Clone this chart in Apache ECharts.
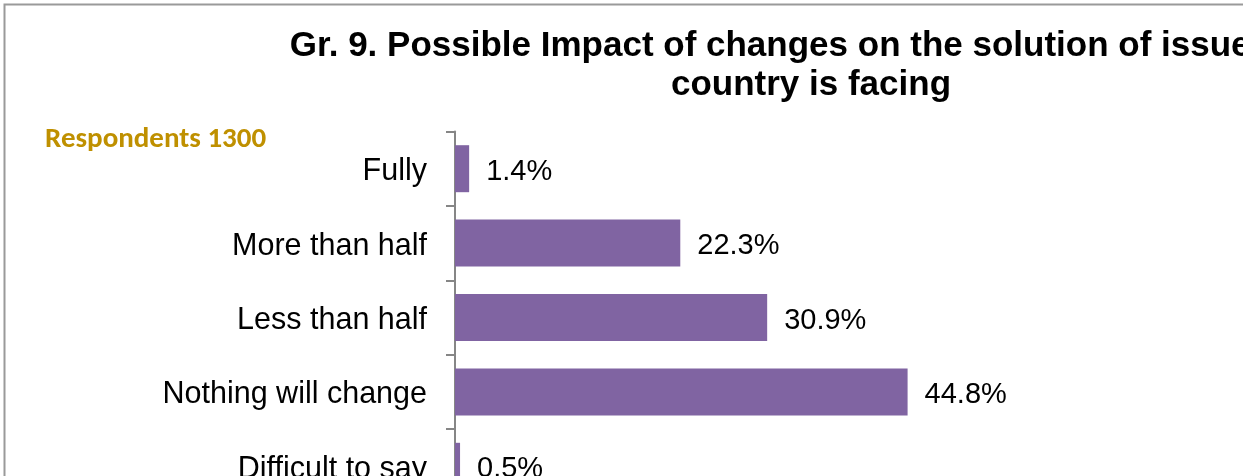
<!DOCTYPE html>
<html>
<head>
<meta charset="utf-8">
<title>Gr. 9. Possible Impact of changes</title>
<script src="https://cdn.jsdelivr.net/npm/echarts@6/dist/echarts.min.js"></script>
<style>
  html, body { margin: 0; padding: 0; background: #ffffff; overflow: hidden; }
  #chart { width: 1243px; height: 476px; }
</style>
</head>
<body>
<div id="chart"></div>
<script>
// Answer categories, top to bottom
const categories = ['Fully', 'More than half', 'Less than half', 'Nothing will change', 'Difficult to say'];
// Share of respondents, %
const shares = [1.4, 22.3, 30.9, 44.8, 0.5];
const titleLines = ['Gr. 9. Possible Impact of changes on the solution of issues the', 'country is facing'];
const sampleNote = 'Respondents 1300';

const labelFont = '"Liberation Sans", Arial, sans-serif';

const chart = echarts.init(document.getElementById('chart'), null, { renderer: 'canvas' });

chart.setOption({
  backgroundColor: '#ffffff',
  animation: false,
  title: {
    text: titleLines.join('\n'),
    left: 811,
    top: 27,
    padding: 0,
    textAlign: 'center',
    textStyle: {
      fontFamily: labelFont,
      fontSize: 35,
      fontWeight: 'bold',
      color: '#000000',
      lineHeight: 39
    }
  },
  graphic: [
    {
      type: 'rect',
      silent: true,
      shape: { x: 4.5, y: 4.5, width: 2000, height: 2000 },
      style: { fill: 'none', stroke: '#9a9a9a', lineWidth: 2 }
    },
    {
      type: 'text',
      left: 45,
      top: 125,
      style: {
        text: sampleNote,
        fontFamily: 'Carlito, Lato, sans-serif',
        fontWeight: 'bold',
        fontSize: 29,
        fill: '#BF9000'
      }
    }
  ],
  grid: {
    left: 455,
    right: 0,
    top: 131.5,
    height: 372,
    outerBoundsMode: 'none',
    containLabel: false
  },
  xAxis: {
    type: 'value',
    min: 0,
    max: 78,
    show: false
  },
  yAxis: {
    type: 'category',
    inverse: true,
    data: categories,
    axisLine: { show: true, lineStyle: { color: '#868686', width: 2 } },
    axisTick: { show: true, length: 9, lineStyle: { color: '#868686', width: 2 } },
    axisLabel: {
      margin: 28,
      // a thin spacer line above the name nudges the text slightly below the band centre
      formatter: v => '{s| }\n{l|' + v + '}',
      rich: {
        s: { fontSize: 2, lineHeight: 6 },
        l: { fontFamily: labelFont, fontSize: 30.5, lineHeight: 36, color: '#000000' }
      }
    },
    splitLine: { show: false }
  },
  series: [
    {
      type: 'bar',
      data: shares,
      barWidth: 47,
      itemStyle: { color: '#8064A2' },
      label: {
        show: true,
        position: 'right',
        distance: 17,
        offset: [0, 3],
        formatter: p => p.value.toFixed(1) + '%',
        fontFamily: labelFont,
        fontSize: 29,
        color: '#000000'
      }
    }
  ]
});
</script>
</body>
</html>
